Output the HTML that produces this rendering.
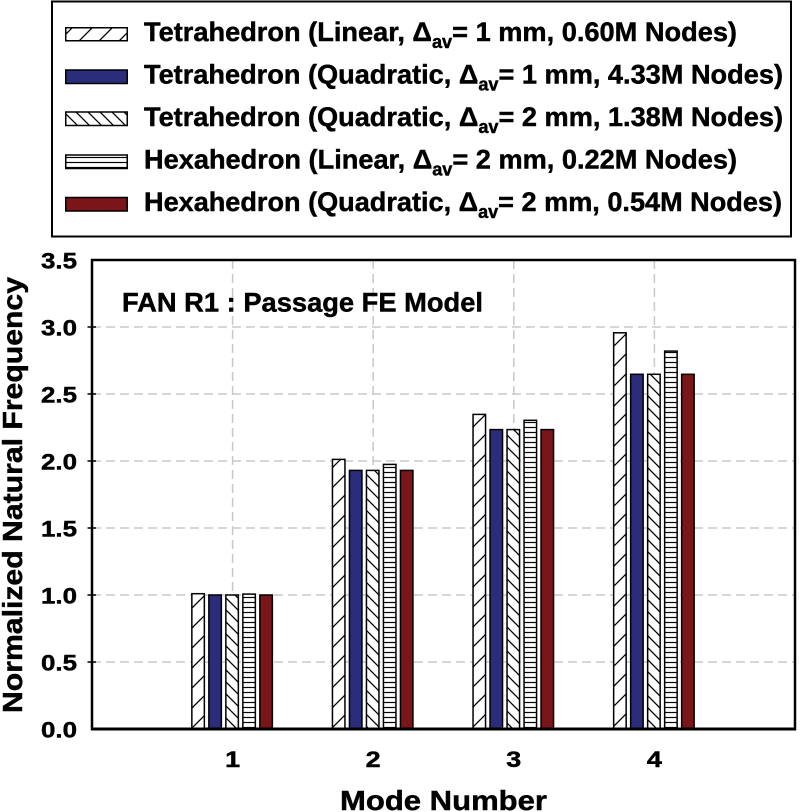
<!DOCTYPE html>
<html>
<head>
<meta charset="utf-8">
<style>
html,body{margin:0;padding:0;background:#fff;}
svg{display:block;}
text{font-family:"Liberation Sans",Arial,sans-serif;font-weight:bold;fill:#000;stroke:#000;stroke-width:0.45px;}
</style>
</head>
<body>
<svg width="800" height="812" viewBox="0 0 800 812" xmlns="http://www.w3.org/2000/svg">
<defs>
  <pattern id="fwd" patternUnits="userSpaceOnUse" width="20" height="20">
    <rect width="20" height="20" fill="#fff"/>
    <path d="M-2,22 L22,-2 M-2,2 L2,-2 M18,22 L22,18" stroke="#000" stroke-width="1.3" fill="none"/>
  </pattern>
  <pattern id="back" patternUnits="userSpaceOnUse" width="12" height="12">
    <rect width="12" height="12" fill="#fff"/>
    <path d="M-2,-2 L14,14 M-2,10 L2,14 M10,-2 L14,2" stroke="#000" stroke-width="1.3" fill="none"/>
  </pattern>
  <pattern id="hor" patternUnits="userSpaceOnUse" width="10" height="5">
    <rect width="10" height="5" fill="#fff"/>
    <path d="M0,2.5 L10,2.5" stroke="#000" stroke-width="1.2" fill="none"/>
  </pattern>
</defs>

<!-- Legend -->
<rect x="52" y="1.5" width="739" height="235" fill="#fff" stroke="#000" stroke-width="2"/>
<g stroke="#000" stroke-width="1.5">
  <rect x="65.75" y="27.75" width="61.5" height="13" fill="url(#fwd)"/>
  <rect x="65.75" y="70" width="61.5" height="13.5" fill="#2b2d7a"/>
  <rect x="65.75" y="112" width="61.5" height="13.5" fill="url(#back)"/>
  <rect x="65.75" y="155" width="61.5" height="13.5" fill="url(#hor)"/>
  <rect x="65.75" y="197.5" width="61.5" height="13.5" fill="#7a1519"/>
</g>
<g font-size="27">
  <text x="144" y="41" textLength="593" lengthAdjust="spacingAndGlyphs">Tetrahedron (Linear, Δ<tspan font-size="18" dy="7">av</tspan><tspan dy="-7">= 1 mm, 0.60M Nodes)</tspan></text>
  <text x="144" y="83.3" textLength="639" lengthAdjust="spacingAndGlyphs">Tetrahedron (Quadratic, Δ<tspan font-size="18" dy="7">av</tspan><tspan dy="-7">= 1 mm, 4.33M Nodes)</tspan></text>
  <text x="144" y="125.8" textLength="639" lengthAdjust="spacingAndGlyphs">Tetrahedron (Quadratic, Δ<tspan font-size="18" dy="7">av</tspan><tspan dy="-7">= 2 mm, 1.38M Nodes)</tspan></text>
  <text x="144" y="168.3" textLength="593" lengthAdjust="spacingAndGlyphs">Hexahedron (Linear, Δ<tspan font-size="18" dy="7">av</tspan><tspan dy="-7">= 2 mm, 0.22M Nodes)</tspan></text>
  <text x="144" y="210.8" textLength="638" lengthAdjust="spacingAndGlyphs">Hexahedron (Quadratic, Δ<tspan font-size="18" dy="7">av</tspan><tspan dy="-7">= 2 mm, 0.54M Nodes)</tspan></text>
</g>

<!-- Gridlines -->
<g stroke="#c8c8c8" stroke-width="1.5" stroke-dasharray="9 5" fill="none">
  <line x1="92" y1="327" x2="795" y2="327"/>
  <line x1="92" y1="394" x2="795" y2="394"/>
  <line x1="92" y1="461" x2="795" y2="461"/>
  <line x1="92" y1="528" x2="795" y2="528"/>
  <line x1="92" y1="595" x2="795" y2="595"/>
  <line x1="92" y1="662" x2="795" y2="662"/>
  <line x1="232.6" y1="260" x2="232.6" y2="729"/>
  <line x1="373.2" y1="260" x2="373.2" y2="729"/>
  <line x1="513.8" y1="260" x2="513.8" y2="729"/>
  <line x1="654.4" y1="260" x2="654.4" y2="729"/>
</g>

<!-- Title -->
<text x="122" y="311.5" font-size="27" textLength="361" lengthAdjust="spacingAndGlyphs">FAN R1 : Passage FE Model</text>

<!-- Bars -->
<g stroke="#000" stroke-width="1.5">
  <rect x="191.85" y="593.7" width="12.5" height="135.3" fill="url(#fwd)"/>
  <rect x="208.85" y="595" width="12.5" height="134" fill="#2b2d7a"/>
  <rect x="225.85" y="595" width="12.5" height="134" fill="url(#back)"/>
  <rect x="242.85" y="594.1" width="12.5" height="134.9" fill="url(#hor)"/>
  <rect x="259.85" y="595" width="12.5" height="134" fill="#7a1519"/>

  <rect x="332.45" y="459.4" width="12.5" height="269.6" fill="url(#fwd)"/>
  <rect x="349.45" y="470.4" width="12.5" height="258.6" fill="#2b2d7a"/>
  <rect x="366.45" y="470.4" width="12.5" height="258.6" fill="url(#back)"/>
  <rect x="383.45" y="464.4" width="12.5" height="264.6" fill="url(#hor)"/>
  <rect x="400.45" y="470.4" width="12.5" height="258.6" fill="#7a1519"/>

  <rect x="473.05" y="414.4" width="12.5" height="314.6" fill="url(#fwd)"/>
  <rect x="490.05" y="429.6" width="12.5" height="299.4" fill="#2b2d7a"/>
  <rect x="507.05" y="429.6" width="12.5" height="299.4" fill="url(#back)"/>
  <rect x="524.05" y="420.3" width="12.5" height="308.7" fill="url(#hor)"/>
  <rect x="541.05" y="429.6" width="12.5" height="299.4" fill="#7a1519"/>

  <rect x="613.65" y="332.8" width="12.5" height="396.2" fill="url(#fwd)"/>
  <rect x="630.65" y="374.3" width="12.5" height="354.7" fill="#2b2d7a"/>
  <rect x="647.65" y="374.3" width="12.5" height="354.7" fill="url(#back)"/>
  <rect x="664.65" y="351.1" width="12.5" height="377.9" fill="url(#hor)"/>
  <rect x="681.65" y="374.3" width="12.5" height="354.7" fill="#7a1519"/>
</g>

<!-- Axes frame -->
<rect x="92" y="260" width="703" height="469" fill="none" stroke="#000" stroke-width="2.5"/>
<line x1="91" y1="729" x2="796" y2="729" stroke="#000" stroke-width="3"/>
<g stroke="#000" stroke-width="1.5">
  <line x1="87.5" y1="327" x2="96" y2="327"/>
  <line x1="87.5" y1="394" x2="96" y2="394"/>
  <line x1="87.5" y1="461" x2="96" y2="461"/>
  <line x1="87.5" y1="528" x2="96" y2="528"/>
  <line x1="87.5" y1="595" x2="96" y2="595"/>
  <line x1="87.5" y1="662" x2="96" y2="662"/>
</g>

<!-- Y tick labels -->
<g font-size="22">
  <text x="41" y="268.5" textLength="36" lengthAdjust="spacingAndGlyphs">3.5</text>
  <text x="41" y="335.5" textLength="36" lengthAdjust="spacingAndGlyphs">3.0</text>
  <text x="41" y="402.5" textLength="36" lengthAdjust="spacingAndGlyphs">2.5</text>
  <text x="41" y="469.5" textLength="36" lengthAdjust="spacingAndGlyphs">2.0</text>
  <text x="41" y="536.5" textLength="36" lengthAdjust="spacingAndGlyphs">1.5</text>
  <text x="41" y="603.5" textLength="36" lengthAdjust="spacingAndGlyphs">1.0</text>
  <text x="41" y="670.5" textLength="36" lengthAdjust="spacingAndGlyphs">0.5</text>
  <text x="41" y="737.5" textLength="36" lengthAdjust="spacingAndGlyphs">0.0</text>
</g>

<!-- X tick labels -->
<g font-size="22">
  <text x="225.1" y="767" textLength="15" lengthAdjust="spacingAndGlyphs">1</text>
  <text x="365.7" y="767" textLength="15" lengthAdjust="spacingAndGlyphs">2</text>
  <text x="506.3" y="767" textLength="15" lengthAdjust="spacingAndGlyphs">3</text>
  <text x="646.9" y="767" textLength="15" lengthAdjust="spacingAndGlyphs">4</text>
</g>

<!-- Axis titles -->
<text x="340" y="810" font-size="28" textLength="207" lengthAdjust="spacingAndGlyphs">Mode Number</text>
<text transform="translate(22,495) rotate(-90)" x="-218" y="0" font-size="28" textLength="436" lengthAdjust="spacingAndGlyphs">Normalized Natural Frequency</text>
</svg>
</body>
</html>
